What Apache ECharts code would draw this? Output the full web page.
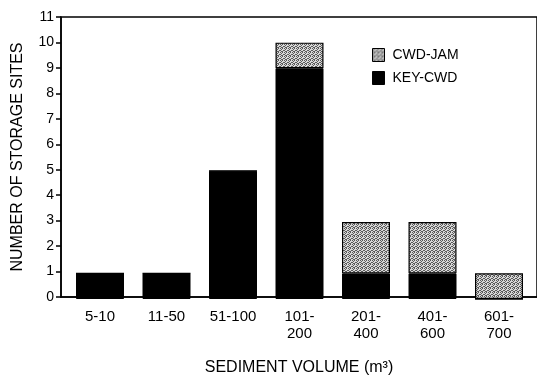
<!DOCTYPE html>
<html>
<head>
<meta charset="utf-8">
<script src="https://cdn.jsdelivr.net/npm/echarts@6/dist/echarts.min.js"></script>
<style>
  html, body { margin: 0; padding: 0; background: #fff; }
  #chart { width: 537px; height: 381px; }
</style>
</head>
<body>
<div id="chart"></div>
<script>
// Sediment volume classes (m³) and number of storage sites per class
const volumeClasses = ['5-10', '11-50', '51-100', '101-\n200', '201-\n400', '401-\n600', '601-\n700'];
const keyCwd = [1, 1, 5, 9, 1, 1, 0];
const cwdJam = [0, 0, 0, 1, 2, 2, 1];
const yMin = 0;
const yMax = 11;
const yStep = 1;

// stippled grey fill for the jam portion of each bar
function stipple() {
  const c = document.createElement('canvas');
  c.width = 4; c.height = 4;
  const g = c.getContext('2d');
  g.fillStyle = '#d8d8d8';
  g.fillRect(0, 0, 4, 4);
  g.fillStyle = '#5a5a5a';
  [[0, 0], [2, 0], [1, 1], [3, 2], [0, 2], [2, 3], [1, 3]].forEach(function (p) { g.fillRect(p[0], p[1], 1, 1); });
  return { image: c, repeat: 'repeat' };
}

const font = '"Liberation Sans", Arial, sans-serif';
const axisLineStyle = { color: '#000', width: 1.5 };

const chart = echarts.init(document.getElementById('chart'), null, { renderer: 'canvas' });
chart.setOption({
  animation: false,
  backgroundColor: '#fff',
  textStyle: { fontFamily: font, color: '#000' },
  grid: [
    // frame: left axis, baseline and top rule
    { left: 61, right: -5, top: 17, bottom: 82, show: true, borderColor: '#000', borderWidth: 1.5, backgroundColor: 'transparent' },
    // bar area: one column per volume class
    { left: 100, right: 38, top: 17, bottom: 82 }
  ],
  legend: {
    data: ['CWD-JAM', 'KEY-CWD'],
    orient: 'vertical',
    left: 372, top: 48,
    padding: 0,
    icon: 'rect',
    itemWidth: 12, itemHeight: 13, itemGap: 9,
    textStyle: { fontSize: 14, color: '#000', fontFamily: font, padding: [0, 0, 0, 3] },
    itemStyle: { borderColor: '#000', borderWidth: 1 }
  },
  xAxis: [
    {
      gridIndex: 0,
      type: 'value', min: 0, max: 1,
      splitLine: { show: false },
      axisLine: { show: true, onZero: false, lineStyle: axisLineStyle },
      axisTick: { show: false },
      axisLabel: { show: false },
      name: 'SEDIMENT VOLUME (m³)',
      nameLocation: 'middle',
      nameGap: 63,
      nameTextStyle: { fontSize: 16, color: '#000' }
    },
    {
      gridIndex: 1,
      type: 'category',
      data: volumeClasses,
      boundaryGap: false,
      axisLine: { show: false },
      axisTick: { show: false },
      axisLabel: { fontSize: 15, lineHeight: 17, color: '#000', margin: 9, interval: 0 }
    }
  ],
  yAxis: [
    {
      gridIndex: 0,
      type: 'value',
      min: yMin, max: yMax, interval: yStep,
      splitLine: { show: false },
      axisLine: { show: true, onZero: false, lineStyle: axisLineStyle },
      axisTick: { show: true, length: 5, lineStyle: axisLineStyle },
      axisLabel: { fontSize: 14, color: '#000', margin: 7 },
      name: 'NUMBER OF STORAGE SITES',
      nameLocation: 'middle',
      nameGap: 35,
      nameRotate: 90,
      nameTextStyle: { fontSize: 16, color: '#000' }
    },
    {
      gridIndex: 1,
      type: 'value',
      min: yMin, max: yMax, interval: yStep,
      show: false
    }
  ],
  series: [
    {
      name: 'KEY-CWD',
      type: 'bar',
      xAxisIndex: 1, yAxisIndex: 1,
      stack: 'sites',
      barWidth: 48,
      data: keyCwd,
      itemStyle: { color: '#000', borderColor: '#000', borderWidth: 1 }
    },
    {
      name: 'CWD-JAM',
      type: 'bar',
      xAxisIndex: 1, yAxisIndex: 1,
      stack: 'sites',
      barWidth: 48,
      data: cwdJam,
      itemStyle: { color: stipple(), borderColor: '#000', borderWidth: 1.2 }
    }
  ]
});
</script>
</body>
</html>
